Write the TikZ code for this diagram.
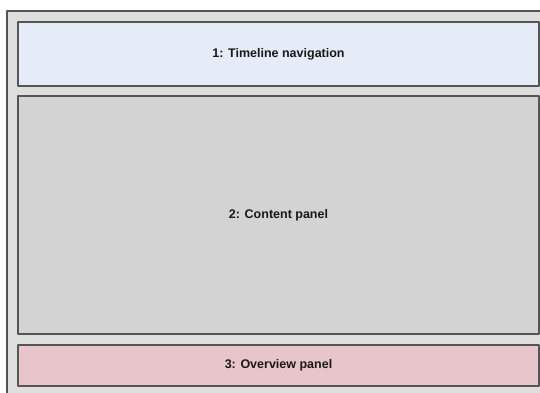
\documentclass[tikz,border=0pt]{standalone}
\usepackage{fontspec}
\setsansfont{Liberation Sans}
\usetikzlibrary{positioning}
\definecolor{framegray}{HTML}{DEDEDC}
\definecolor{navblue}{HTML}{E6ECF7}
\definecolor{contentgray}{HTML}{D3D3D3}
\definecolor{overviewpink}{HTML}{E8C5CA}
\definecolor{edgegray}{HTML}{555555}
\begin{document}
\begin{tikzpicture}[x=1pt,y=-1pt,join=round,
    panel/.style={draw=edgegray,line width=1.6pt,minimum width=521pt,inner sep=0pt,
        font=\sffamily\bfseries\fontsize{12.5}{15}\selectfont,text=black!90}] % Layout panels
        \useasboundingbox (0,0) rectangle (540,392);
        \filldraw[fill=framegray,draw=edgegray,line width=1.2pt](7,11) rectangle (546,400);
        \node[panel,fill=navblue,minimum height=64pt] (nav) at (278.5,54) {1: Timeline navigation};
        \node[panel,fill=contentgray,minimum height=238pt] (content) at (278.5,215) {2: Content panel};
        \node[panel,fill=overviewpink,minimum height=41pt] (overview) at (278.5,365.5) {3: Overview panel};
\end{tikzpicture}
\end{document}
